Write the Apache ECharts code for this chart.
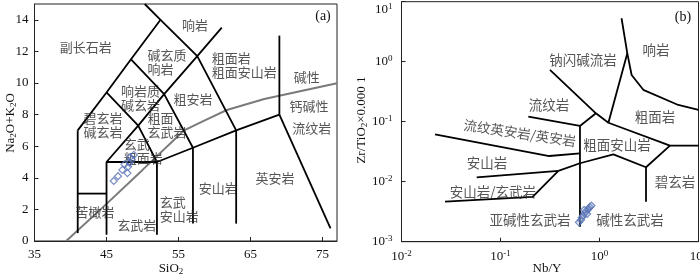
<!DOCTYPE html>
<html><head><meta charset="utf-8">
<script src="https://cdn.jsdelivr.net/npm/echarts@6/dist/echarts.min.js"></script>
<style>html,body{margin:0;padding:0;background:#fff}#c{width:700px;height:277px}</style>
</head><body><div id="c"></div>
<script>
// ---------- Panel (a): TAS diagram (SiO2 vs Na2O+K2O) ----------
const tasBoundaries = [
  [[41,0.5],[41,7]],
  [[41,3],[45,3]],
  [[45,0.4],[45,5],[52,5]],
  [[52,0.4],[52,5]],
  [[57,1.1],[57,5.9]],
  [[63,1.1],[63,7]],
  [[52,5],[57,5.9],[63,7],[69,8]],
  [[69,8],[69,13]],
  [[69,8],[76.1,0.8]],
  [[45,5],[49.4,7.3],[52,5]],
  [[41,7],[45,9.4],[48.4,11.5],[52.5,14],[50.3,15]],
  [[45,9.4],[49.4,7.3],[53,9.3],[57,5.9]],
  [[48.4,11.5],[53,9.3],[57.6,11.7],[61,13.5]],
  [[52.5,14],[57.6,11.7],[63,7]]
];
const alkalineDivide = [[39.4,0],[45,2.35],[50,4.5],[55.7,6.98],[58.5,7.6],[61.7,8.29],[66.9,8.99],[77,9.98]];
const tasSamples = [[46.0,3.8],[46.6,4.1],[47.2,4.5],[47.5,4.85],[47.9,4.3],[48.0,4.7],[48.2,4.95],[48.5,5.15],[48.8,5.45],[48.3,5.3]];
const tasNamesCentered = [
  [42.1,12.3,'副长石岩'],[57.3,13.65,'响岩'],[72.8,10.4,'碱性'],[57.0,9.0,'粗安岩'],
  [73.1,8.55,'钙碱性'],[44.5,7.35,'碧玄岩\n碱玄岩'],[73.5,7.15,'流纹岩'],[68.4,4.0,'英安岩'],
  [60.5,3.35,'安山岩'],[43.4,1.84,'苦橄岩'],[49.2,1.0,'玄武岩']
];
const tasNamesLeft = [
  [50.7,11.35,'碱玄质\n响岩'],[59.6,11.15,'粗面岩\n粗面安山岩'],[47.0,9.05,'响岩质\n碱玄岩'],
  [50.7,7.35,'粗面\n玄武岩'],[47.4,5.7,'玄武\n粗面岩'],[52.4,2.0,'玄武\n安山岩']
];
// ---------- Panel (b): Zr/TiO2 vs Nb/Y ----------
const wfBoundaries = [
  [[1.67,5.3],[1.91,1.38],[2.11,0.6],[2.77,0.34],[6.25,0.19],[10,0.157]],
  [[1.91,1.38],[1.23,0.096]],
  [[0.316,0.73],[0.92,0.138],[1.23,0.096],[5.15,0.04],[10,0.04]],
  [[0.92,0.138],[0.635,0.085]],
  [[0.191,0.121],[0.635,0.085],[0.635,0.00178]],
  [[5.15,0.04],[2.95,0.0174],[2.95,0.00464]],
  [[2.95,0.0174],[1.38,0.0286],[0.635,0.0203],[0.384,0.0151]],
  [[0.0575,0.0118],[0.384,0.0151],[0.211,0.0056],[0.0275,0.00464]],
  [[0.0218,0.0616],[0.311,0.0268],[0.635,0.0297]]
];
const wfSamples = [[0.62,0.0021],[0.66,0.0025],[0.68,0.0027],[0.71,0.0030],[0.73,0.0032],[0.76,0.0034],[0.78,0.0036],[0.80,0.0038],[0.83,0.0040],[0.70,0.0034],[0.75,0.0029],[0.65,0.0023]];
const wfNames = [
  [3.72,1.57,'响岩'],[0.68,1.07,'钠闪碱流岩'],[0.309,0.19,'流纹岩'],[3.64,0.12,'粗面岩'],
  [1.5,0.0409,'粗面安山岩'],[0.0731,0.0205,'安山岩'],[5.8,0.0099,'碧玄岩'],
  [0.0839,0.00673,'安山岩/玄武岩'],[0.1986,0.0023,'亚碱性玄武岩'],[2.03,0.0023,'碱性玄武岩']
];
const wfNamesRotated = [[0.157,0.0648,'流纹英安岩/英安岩']];

const SERIF = "'Liberation Serif','Times New Roman',serif";
const CJK = "'Noto Sans CJK SC','Noto Sans CJK JP',sans-serif";

function lineSeries(lines, xi, color, width) {
  return lines.map(pts => ({
    type:'line', xAxisIndex:xi, yAxisIndex:xi, data:pts, symbol:'none', silent:true,
    lineStyle:{color:color, width:width}, z:3, animation:false
  }));
}
function nameSeries(items, xi, opts) {
  return {
    type:'scatter', xAxisIndex:xi, yAxisIndex:xi, symbolSize:0, silent:true, z:5,
    data: items.map(d => ({value:[d[0], d[1]], name:d[2]})),
    label:Object.assign({show:true, position:'inside', formatter:'{b}', color:'#2a2a2a',
      fontFamily:CJK, fontSize:13, lineHeight:14, align:'center', verticalAlign:'middle'}, opts||{})
  };
}
function pow10(v){ const e = Math.round(Math.log10(v)); return '{b|10}{s|' + e + '}'; }
const powRich = {
  b:{fontFamily:SERIF, fontSize:13, lineHeight:16, color:'#111'},
  s:{fontFamily:SERIF, fontSize:9, lineHeight:10, verticalAlign:'top', color:'#111'}
};
const axisCommon = {
  axisLine:{show:true, lineStyle:{color:'#222', width:1}},
  axisTick:{show:true, inside:true, length:4, lineStyle:{color:'#222'}},
  splitLine:{show:false},
  axisLabel:{fontFamily:SERIF, fontSize:13, color:'#111', margin:7}
};

const chart = echarts.init(document.getElementById('c'), null, {renderer:'canvas'});
const option = {
  animation:false,
  backgroundColor:'#fff',
  grid:[
    {left:34.5, top:4, width:302.5, height:237, show:true, borderColor:'#222', borderWidth:1, containLabel:false, outerBoundsMode:'none'},
    {left:401.5, top:1.7, width:297, height:240, show:true, borderColor:'#222', borderWidth:1, containLabel:false, outerBoundsMode:'none'}
  ],
  xAxis:[
    Object.assign({}, axisCommon, {gridIndex:0, type:'value', min:35, max:77, interval:10,
      axisLabel:{fontFamily:SERIF, fontSize:13, color:'#111', margin:7, showMaxLabel:false}}),
    Object.assign({}, axisCommon, {gridIndex:1, type:'log', logBase:10, min:0.01, max:10,
      axisLabel:{formatter:pow10, rich:powRich, margin:7}})
  ],
  yAxis:[
    Object.assign({}, axisCommon, {gridIndex:0, type:'value', min:0, max:15, interval:2,
      axisLabel:{fontFamily:SERIF, fontSize:13, color:'#111', margin:6, showMaxLabel:false}}),
    Object.assign({}, axisCommon, {gridIndex:1, type:'log', logBase:10, min:0.001, max:10,
      axisLabel:{margin:9, lineHeight:16, fontSize:13, rich:powRich,
        formatter:v => (Math.round(Math.log10(v)) === 1 ? ' \n' : '') + pow10(v)}})
  ],
  series:[].concat(
    lineSeries(tasBoundaries, 0, '#000', 1.8),
    [{type:'line', xAxisIndex:0, yAxisIndex:0, data:alkalineDivide, symbol:'none', silent:true,
      lineStyle:{color:'#7a7a7a', width:2}, z:2}],
    [nameSeries(tasNamesCentered, 0)],
    [nameSeries(tasNamesLeft, 0, {align:'left'})],
    [{type:'scatter', xAxisIndex:0, yAxisIndex:0, data:tasSamples, symbol:'diamond', symbolSize:7, z:6,
      itemStyle:{color:'rgba(255,255,255,0)', borderColor:'#5872b4', borderWidth:1.2}}],
    lineSeries(wfBoundaries, 1, '#000', 1.8),
    [nameSeries(wfNames, 1, {fontSize:13.5})],
    [nameSeries(wfNamesRotated, 1, {fontSize:13.5, rotate:-8.5})],
    [{type:'scatter', xAxisIndex:1, yAxisIndex:1, data:wfSamples, symbol:'diamond', symbolSize:7, z:6,
      itemStyle:{color:'rgba(140,160,205,0.35)', borderColor:'#5872b4', borderWidth:1.2}}]
  ),
  graphic:[
    {type:'text', x:323, y:16, style:{text:'(a)', font:'14px '+SERIF, fill:'#111', align:'center', verticalAlign:'middle'}},
    {type:'text', x:683, y:17, style:{text:'(b)', font:'14px '+SERIF, fill:'#111', align:'center', verticalAlign:'middle'}},
    {type:'text', x:171, y:269, style:{text:'{a|SiO}{s|2}', align:'center', verticalAlign:'middle',
      rich:{a:{fontFamily:SERIF, fontSize:13, lineHeight:15, fill:'#111'}, s:{fontFamily:SERIF, fontSize:9, lineHeight:10, verticalAlign:'bottom', fill:'#111'}}}},
    {type:'text', x:547, y:269, style:{text:'Nb/Y', font:'13px '+SERIF, fill:'#111', align:'center', verticalAlign:'middle'}},
    {type:'text', x:11, y:123, rotation:Math.PI/2, style:{text:'{a|Na}{s|2}{a|O+K}{s|2}{a|O}', align:'center', verticalAlign:'middle',
      rich:{a:{fontFamily:SERIF, fontSize:13, lineHeight:15, fill:'#111'}, s:{fontFamily:SERIF, fontSize:9, lineHeight:10, verticalAlign:'bottom', fill:'#111'}}}},
    {type:'text', x:362, y:120, rotation:Math.PI/2, style:{text:'{a|Zr/TiO}{s|2}{a|×0.000 1}', align:'center', verticalAlign:'middle',
      rich:{a:{fontFamily:SERIF, fontSize:13, lineHeight:15, fill:'#111'}, s:{fontFamily:SERIF, fontSize:9, lineHeight:10, verticalAlign:'bottom', fill:'#111'}}}}
  ]
};
chart.setOption(option);
</script></body></html>
